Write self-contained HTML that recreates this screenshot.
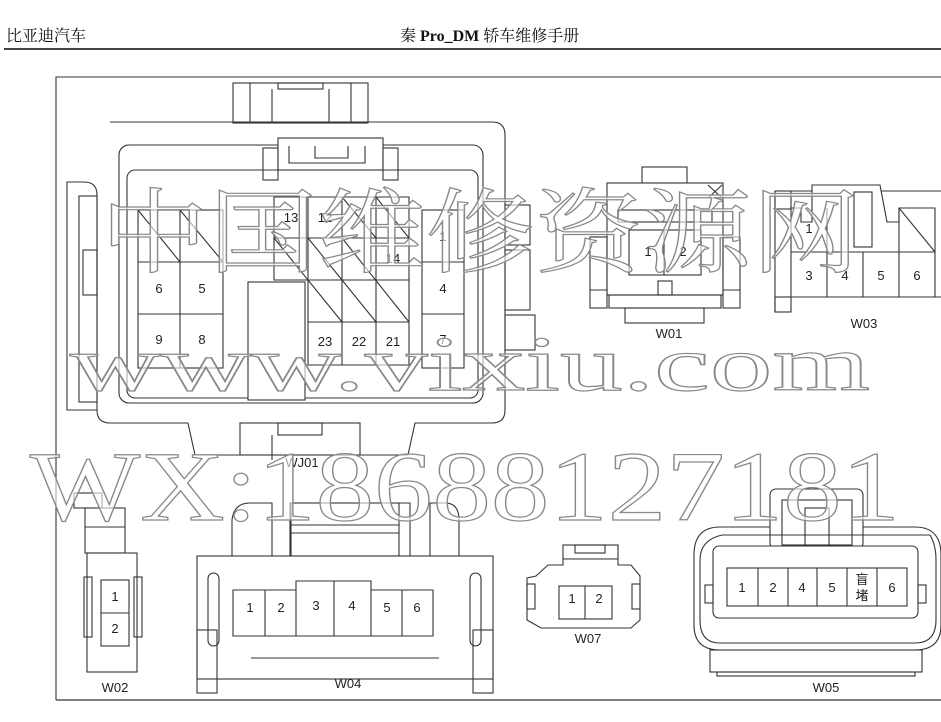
<!DOCTYPE html>
<html><head><meta charset="utf-8"><style>
body{margin:0;background:#fff;}
svg{display:block;font-family:"Liberation Sans","Noto Sans CJK SC",sans-serif;}
.s{fill:none;stroke:#333;stroke-width:1.1}
.w{fill:#fff;stroke:#333;stroke-width:1.1}
.t{font-size:13px;fill:#222;text-anchor:middle}
.wm{font-family:"Liberation Serif","Noto Serif CJK SC",serif;fill:#fff;stroke:#888;stroke-width:1.2;fill-opacity:0.6}
</style></head><body>
<svg width="941" height="722" viewBox="0 0 941 722" xmlns="http://www.w3.org/2000/svg">
<text x="6" y="41" style="font-family:'Liberation Serif','Noto Serif CJK SC',serif;font-size:16px" fill="#111">比亚迪汽车</text>
<text x="400" y="41" style="font-family:'Liberation Serif','Noto Serif CJK SC',serif;font-size:16px" fill="#111">秦 <tspan font-weight="bold">Pro_DM</tspan> 轿车维修手册</text>
<line x1="4" y1="49" x2="941" y2="49" stroke="#444" stroke-width="2"/>
<path d="M56 700 V77 H941" class="s" stroke-width="1.5"/>
<line x1="56" y1="700" x2="941" y2="700" stroke="#555" stroke-width="1.5"/>

<!-- WJ01 -->
<rect x="233" y="83" width="135" height="40" class="s"/>
<rect x="278" y="83" width="45" height="6" class="s"/>
<line x1="250" y1="83" x2="250" y2="123" class="s"/><line x1="351" y1="83" x2="351" y2="123" class="s"/>
<line x1="272" y1="89" x2="272" y2="123" class="s"/><line x1="329" y1="89" x2="329" y2="123" class="s"/>
<path d="M110 122 H492 Q505 122 505 135 V410 Q505 423 492 423 H415 L408 455 H195 L188 423 H110 Q97 423 97 410 V195 Q97 182 84 182 H67 V410 H97" class="s"/>
<rect x="79" y="196" width="18" height="206" class="s"/>
<rect x="83" y="250" width="14" height="45" class="s"/>
<rect x="119" y="145" width="364" height="258" rx="10" class="s"/>
<rect x="127" y="170" width="351" height="228" rx="8" class="s"/>
<rect x="278" y="138" width="105" height="32" class="w"/>
<path d="M289 146 V163 H365 V146 M315 146 V158 H348 V146" class="s"/>
<rect x="263" y="148" width="15" height="32" class="s"/><rect x="383" y="148" width="15" height="32" class="s"/>
<rect x="505" y="205" width="25" height="40" class="s"/><rect x="505" y="250" width="25" height="60" class="s"/><rect x="505" y="315" width="30" height="35" class="s"/>
<!-- left grid -->
<rect x="138" y="210" width="85" height="158" class="w"/>
<line x1="180" y1="210" x2="180" y2="368" class="s"/>
<line x1="138" y1="262" x2="223" y2="262" class="s"/><line x1="138" y1="314" x2="223" y2="314" class="s"/>
<line x1="138" y1="210" x2="180" y2="262" class="s"/><line x1="180" y1="210" x2="223" y2="262" class="s"/>
<text class="t" x="159" y="293">6</text><text class="t" x="202" y="293">5</text>
<text class="t" x="159" y="344">9</text><text class="t" x="202" y="344">8</text>
<!-- middle grid -->
<path d="M274 197 H409 V365 H308 V280 H274 Z" class="w"/>
<line x1="308" y1="197" x2="308" y2="280" class="s"/><line x1="342" y1="197" x2="342" y2="365" class="s"/><line x1="376" y1="197" x2="376" y2="365" class="s"/>
<line x1="274" y1="238" x2="409" y2="238" class="s"/><line x1="308" y1="280" x2="409" y2="280" class="s"/><line x1="308" y1="322" x2="409" y2="322" class="s"/>
<line x1="342" y1="197" x2="376" y2="238" class="s"/><line x1="376" y1="197" x2="409" y2="238" class="s"/>
<line x1="274" y1="238" x2="342" y2="322" class="s"/><line x1="308" y1="238" x2="376" y2="322" class="s"/><line x1="342" y1="238" x2="409" y2="322" class="s"/>
<text class="t" x="291" y="222">13</text><text class="t" x="325" y="222">12</text><text class="t" x="393" y="263">14</text>
<text class="t" x="325" y="346">23</text><text class="t" x="359" y="346">22</text><text class="t" x="393" y="346">21</text>
<rect x="248" y="282" width="57" height="118" class="w"/>
<rect x="422" y="210" width="42" height="158" class="w"/>
<line x1="422" y1="262" x2="464" y2="262" class="s"/><line x1="422" y1="314" x2="464" y2="314" class="s"/>
<text class="t" x="443" y="241">1</text><text class="t" x="443" y="293">4</text><text class="t" x="443" y="344">7</text>
<rect x="240" y="423" width="120" height="32" class="w"/>
<rect x="278" y="423" width="44" height="12" class="s"/>
<line x1="272" y1="435" x2="272" y2="460" class="s"/>
<text class="t" x="302" y="467">WJ01</text>

<!-- W01 -->
<rect x="642" y="167" width="45" height="16" class="s"/>
<rect x="607" y="183" width="116" height="112" class="w"/>
<rect x="618" y="210" width="94" height="12" class="s"/>
<rect x="590" y="237" width="17" height="71" class="s"/><rect x="723" y="237" width="17" height="71" class="s"/>
<line x1="590" y1="290" x2="607" y2="290" class="s"/><line x1="723" y1="290" x2="740" y2="290" class="s"/>
<rect x="629" y="230" width="72" height="45" class="s"/><line x1="664" y1="230" x2="664" y2="275" class="s"/>
<rect x="658" y="281" width="14" height="14" class="s"/>
<rect x="609" y="295" width="112" height="13" class="s"/>
<rect x="625" y="308" width="79" height="15" class="s"/>
<line x1="708" y1="185" x2="722" y2="198" class="s"/><line x1="722" y1="185" x2="708" y2="198" class="s"/>
<text class="t" x="648" y="256">1</text><text class="t" x="683" y="256">2</text>
<text class="t" x="669" y="338">W01</text>

<!-- W03 -->
<path d="M775 191 H941 M775 191 V312 H791 M775 297 H941" class="s"/>
<rect x="775" y="191" width="16" height="18" class="s"/>
<rect x="775" y="297" width="16" height="15" class="s"/>
<path d="M791 208 V297 H935 V208 H899 V222 H887 L880 185 H812 V222 H801 V208 Z" class="w"/>
<rect x="854" y="192" width="18" height="55" class="s"/>
<line x1="791" y1="252" x2="935" y2="252" class="s"/>
<line x1="827" y1="208" x2="827" y2="297" class="s"/><line x1="863" y1="252" x2="863" y2="297" class="s"/><line x1="899" y1="208" x2="899" y2="297" class="s"/>
<line x1="899" y1="208" x2="935" y2="252" class="s"/>
<text class="t" x="809" y="233">1</text>
<text class="t" x="809" y="280">3</text><text class="t" x="845" y="280">4</text><text class="t" x="881" y="280">5</text><text class="t" x="917" y="280">6</text>
<text class="t" x="864" y="328">W03</text>

<!-- W02 -->
<rect x="74" y="493" width="28" height="15" class="s"/>
<rect x="85" y="508" width="40" height="45" class="w"/>
<line x1="85" y1="527" x2="125" y2="527" class="s"/>
<rect x="87" y="553" width="50" height="119" class="w"/>
<rect x="84" y="577" width="8" height="60" class="s"/><rect x="134" y="577" width="8" height="60" class="s"/>
<rect x="101" y="580" width="28" height="66" class="s"/><line x1="101" y1="613" x2="129" y2="613" class="s"/>
<text class="t" x="115" y="601">1</text><text class="t" x="115" y="633">2</text>
<text class="t" x="115" y="692">W02</text>

<!-- W04 -->
<path d="M232 556 V520 Q234 503 250 503 H272 V556 M290 556 V503 H330 V556 M375 556 V503 H410 V556 M430 556 V503 H445 Q459 503 459 520 V556" class="s"/>
<rect x="291" y="503" width="108" height="53" class="w"/>
<line x1="291" y1="525" x2="399" y2="525" class="s"/><line x1="291" y1="533" x2="399" y2="533" class="s"/>
<rect x="197" y="556" width="296" height="123" class="w"/>
<rect x="197" y="630" width="20" height="63" class="s"/><rect x="473" y="630" width="20" height="63" class="s"/>
<line x1="251" y1="658" x2="439" y2="658" class="s"/>
<rect x="208" y="573" width="11" height="73" rx="5.5" class="s"/><rect x="470" y="573" width="11" height="73" rx="5.5" class="s"/>
<path d="M233 590 H296 V581 H371 V590 H433 V636 H233 Z" class="s"/>
<line x1="265" y1="590" x2="265" y2="636" class="s"/><line x1="296" y1="590" x2="296" y2="636" class="s"/><line x1="334" y1="581" x2="334" y2="636" class="s"/><line x1="371" y1="590" x2="371" y2="636" class="s"/><line x1="402" y1="590" x2="402" y2="636" class="s"/>
<text class="t" x="250" y="612">1</text><text class="t" x="281" y="612">2</text><text class="t" x="316" y="610">3</text><text class="t" x="352" y="610">4</text><text class="t" x="387" y="612">5</text><text class="t" x="417" y="612">6</text>
<text class="t" x="348" y="688">W04</text>

<!-- W07 -->
<rect x="563" y="545" width="55" height="14" class="s"/><rect x="575" y="545" width="30" height="8" class="s"/>
<path d="M536 576 L548 565 H563 V559 H618 V565 H631 L640 576 V620 L631 628 H541 L527 620 V578 Z" class="w"/>
<rect x="527" y="584" width="8" height="25" class="s"/><rect x="632" y="584" width="8" height="25" class="s"/>
<rect x="559" y="586" width="53" height="33" class="s"/><line x1="585" y1="586" x2="585" y2="619" class="s"/>
<text class="t" x="572" y="603">1</text><text class="t" x="599" y="603">2</text>
<text class="t" x="588" y="643">W07</text>

<!-- W05 -->
<rect x="770" y="489" width="93" height="60" rx="6" class="w"/>
<rect x="782" y="500" width="70" height="45" class="s"/><rect x="805" y="508" width="24" height="40" class="s"/>
<path d="M720 527 H770 M863 527 H915 Q941 527 941 555 V625 Q941 650 915 650 H720 Q694 650 694 625 V555 Q694 527 720 527" class="s"/>
<path d="M722 535 H930 Q936 545 936 560 V620 Q936 643 915 643 H720 Q700 643 700 620 V560 Q700 540 722 535" class="s"/>
<rect x="713" y="546" width="205" height="72" rx="6" class="w"/>
<rect x="727" y="568" width="180" height="38" class="s"/>
<line x1="758" y1="568" x2="758" y2="606" class="s"/><line x1="788" y1="568" x2="788" y2="606" class="s"/><line x1="817" y1="568" x2="817" y2="606" class="s"/><line x1="847" y1="568" x2="847" y2="606" class="s"/><line x1="877" y1="568" x2="877" y2="606" class="s"/>
<rect x="705" y="585" width="8" height="18" class="s"/><rect x="918" y="585" width="8" height="18" class="s"/>
<rect x="710" y="650" width="212" height="22" class="s"/>
<rect x="717" y="672" width="198" height="4" class="s"/>
<text class="t" x="742" y="592">1</text><text class="t" x="773" y="592">2</text><text class="t" x="802" y="592">4</text><text class="t" x="832" y="592">5</text><text class="t" x="862" y="584" font-size="12">盲</text><text class="t" x="862" y="600" font-size="12">堵</text><text class="t" x="892" y="592">6</text>
<text class="t" x="826" y="692">W05</text>

<!-- watermark -->
<text class="wm" x="100" y="265" font-size="92" textLength="760" lengthAdjust="spacingAndGlyphs">中国维修资源网</text>
<text class="wm" x="70" y="390" font-size="78" textLength="800" lengthAdjust="spacingAndGlyphs">www.vixiu.com</text>
<text class="wm" x="30" y="520" font-size="100" textLength="870" lengthAdjust="spacingAndGlyphs">WX:18688127181</text>
</svg>
</body></html>
